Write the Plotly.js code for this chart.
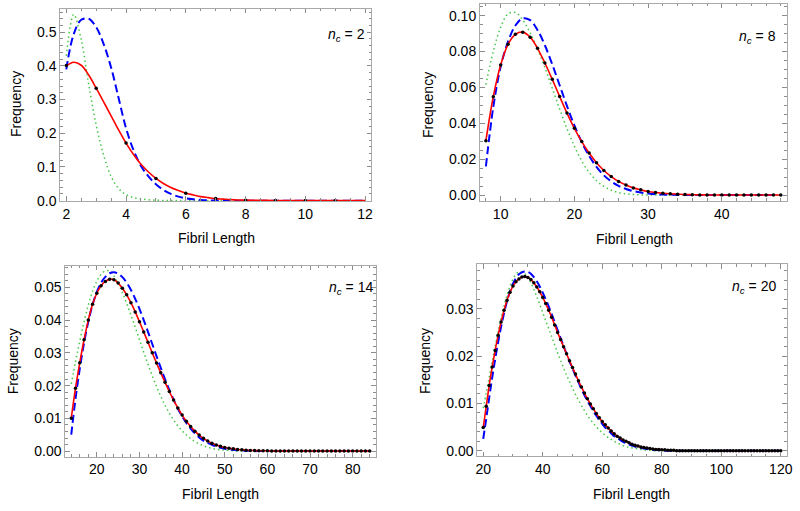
<!DOCTYPE html>
<html><head><meta charset="utf-8">
<script src="https://cdn.plot.ly/plotly-3.0.1.min.js"></script>
<style>html,body{margin:0;padding:0;background:#fff}#chart{width:800px;height:511px}</style>
</head><body><div id="chart"></div>
<script>
// ---------- data ----------
const ncValues = [2, 8, 14, 20];
// sampling grid of each panel: start and step of fibril length
const gridStart = [2, 8, 14, 20];
const gridStep = [0.25, 1, 1, 1];
const dotStart = [2, 8, 14, 20];

// n_c = 2 (curves every 0.25 from 2 to 12)
const red2 = [0.400,0.411,0.402,0.373,0.334,0.293,0.252,0.210,0.171,0.137,0.108,0.085,0.066,0.051,0.039,0.030,0.022,0.017,0.012,0.009,0.006,0.0045,0.003,0.002,0.0015,0.0012,0.0009,0.0007,0.0005,0.0004,0.0003,0.0002,0.0002,0.0001,0.0001,0.0001,0,0,0,0,0];
const blue2 = [0.390,0.495,0.537,0.540,0.515,0.465,0.395,0.305,0.215,0.150,0.103,0.072,0.049,0.032,0.020,0.012,0.007,0.004,0.002,0.001,0.0005,0.0003,0.0001,0,0,0,0,0,0,0,0,0,0,0,0,0,0,0,0,0,0];
const green2 = [0.430,0.553,0.478,0.345,0.225,0.135,0.072,0.036,0.018,0.009,0.005,0.0025,0.0012,0.0005,0.0002,0.0001,0,0,0,0,0,0,0,0,0,0,0,0,0,0,0,0,0,0,0,0,0,0,0,0,0];
const sim2 = [0.401,0.334,0.171,0.066,0.022,0.006,0.0015,0.0003,0.0001,0.0];

// n_c = 8 (every 1 from 8 to 48)
const sim8 = [0.0303,0.0548,0.0725,0.0840,0.0896,0.0908,0.0880,0.0818,0.0736,0.0645,0.0550,0.0457,0.0372,0.0298,0.0234,0.0180,0.0137,0.0103,0.0076,0.0056,0.0040,0.0029,0.0020,0.0014,0.0010,0.0007,0.0005,0.0003,0.0002,0.0001,0.0001,0,0,0,0,0,0,0,0,0,0];
const red8 = [0.0303,0.0548,0.0725,0.0840,0.0896,0.0908,0.0880,0.0818,0.0736,0.0645,0.0550,0.0457,0.0372,0.0298,0.0234,0.0180,0.0137,0.0103,0.0076,0.0056,0.0040,0.0029,0.0020,0.0014,0.0010,0.0007,0.0005,0.0003,0.0002,0.0001,0.0001,0,0,0,0,0,0,0,0,0,0];
const blue8 = [0.0160,0.0490,0.0715,0.0855,0.0945,0.0985,0.0975,0.0920,0.0835,0.0728,0.0612,0.0496,0.0388,0.0295,0.0218,0.0157,0.0110,0.0076,0.0051,0.0034,0.0022,0.0014,0.0009,0.0005,0.0003,0.0002,0.0001,0,0,0,0,0,0,0,0,0,0,0,0,0,0];
const green8 = [0.0615,0.0800,0.0935,0.1010,0.1018,0.0975,0.0905,0.0815,0.0710,0.0595,0.0480,0.0370,0.0272,0.0190,0.0126,0.0080,0.0048,0.0027,0.0014,0.0007,0.0003,0.0001,0,0,0,0,0,0,0,0,0,0,0,0,0,0,0,0,0,0,0];

// n_c = 14 (every 1 from 14 to 84)
const sim14 = [0.0100,0.0192,0.0270,0.0340,0.0400,0.0448,0.0482,0.0505,0.0518,0.0525,
  0.0523,0.0513,0.0497,0.0477,0.0453,0.0425,0.0395,0.0364,0.0332,0.0300,
  0.0269,0.0239,0.0210,0.0182,0.0156,0.0132,0.0110,0.0091,0.0075,0.0061,
  0.0049,0.0039,0.0031,0.0024,0.0019,0.0015,0.0011,0.0009,0.0007,0.0005,
  0.0004,0.0003,0.0002,0.0002,0.0001,0.0001,0.0001,0,0,0,
  0,0,0,0,0,0,0,0,0,0,
  0,0,0,0,0,0,0,0,0,0,0];
const red14 = sim14.slice();
const blue14 = [0.0050,0.0160,0.0252,0.0330,0.0395,0.0447,0.0486,0.0514,0.0532,0.0543,
  0.0546,0.0542,0.0531,0.0514,0.0492,0.0465,0.0434,0.0400,0.0364,0.0327,
  0.0290,0.0254,0.0219,0.0187,0.0157,0.0130,0.0106,0.0086,0.0069,0.0054,
  0.0042,0.0032,0.0025,0.0019,0.0014,0.0010,0.0007,0.0005,0.0004,0.0003,
  0.0002,0.0001,0.0001,0,0,0,0,0,0,0,
  0,0,0,0,0,0,0,0,0,0,
  0,0,0,0,0,0,0,0,0,0,0];
const green14 = [0.0205,0.0272,0.0336,0.0395,0.0446,0.0488,0.0519,0.0540,0.0550,0.0550,
  0.0535,0.0512,0.0484,0.0451,0.0415,0.0378,0.0340,0.0302,0.0265,0.0230,
  0.0197,0.0167,0.0140,0.0116,0.0095,0.0077,0.0062,0.0049,0.0038,0.0029,
  0.0022,0.0016,0.0012,0.0008,0.0006,0.0004,0.0003,0.0002,0.0001,0,
  0,0,0,0,0,0,0,0,0,0,
  0,0,0,0,0,0,0,0,0,0,
  0,0,0,0,0,0,0,0,0,0,0];

// n_c = 20 (every 1 from 20 to 120)
const sim20 = [0.0049,0.0094,0.0138,0.0177,0.0212,0.0244,0.0272,0.0297,0.0318,0.0335,
  0.0348,0.0357,0.0363,0.0367,0.0368,0.0366,0.0362,0.0355,0.0346,0.0336,
  0.0324,0.0311,0.0297,0.0282,0.0266,0.0250,0.0235,0.0220,0.0205,0.0190,
  0.0176,0.0162,0.0148,0.0135,0.0122,0.0110,0.0099,0.0089,0.0079,0.0070,
  0.0062,0.0055,0.0048,0.0042,0.0036,0.0031,0.0027,0.0023,0.0020,0.0017,
  0.0014,0.0012,0.0010,0.0008,0.0007,0.0006,0.0005,0.0004,0.0003,0.0003,
  0.0002,0.0002,0.0001,0.0001,0.0001,0,0,0,0,0,
  0,0,0,0,0,0,0,0,0,0,
  0,0,0,0,0,0,0,0,0,0,
  0,0,0,0,0,0,0,0,0,0,0];
const red20 = sim20.slice();
const blue20 = [0.0025,0.0068,0.0112,0.0154,0.0193,0.0229,0.0262,0.0291,0.0316,0.0337,
  0.0353,0.0365,0.0373,0.0377,0.0379,0.0378,0.0374,0.0367,0.0358,0.0347,
  0.0334,0.0320,0.0305,0.0289,0.0272,0.0255,0.0238,0.0221,0.0205,0.0189,
  0.0174,0.0159,0.0145,0.0131,0.0118,0.0106,0.0095,0.0084,0.0074,0.0065,
  0.0057,0.0049,0.0043,0.0037,0.0031,0.0027,0.0023,0.0019,0.0016,0.0013,
  0.0011,0.0009,0.0007,0.0006,0.0005,0.0004,0.0003,0.0002,0.0002,0.0001,
  0.0001,0,0,0,0,0,0,0,0,0,
  0,0,0,0,0,0,0,0,0,0,
  0,0,0,0,0,0,0,0,0,0,
  0,0,0,0,0,0,0,0,0,0,0];
const green20 = [0.0090,0.0122,0.0155,0.0188,0.0220,0.0251,0.0280,0.0306,0.0329,0.0348,
  0.0363,0.0373,0.0378,0.0378,0.0374,0.0366,0.0355,0.0341,0.0326,0.0309,
  0.0292,0.0275,0.0258,0.0241,0.0224,0.0207,0.0191,0.0175,0.0160,0.0146,
  0.0132,0.0119,0.0107,0.0096,0.0085,0.0075,0.0066,0.0058,0.0051,0.0044,
  0.0038,0.0033,0.0028,0.0024,0.0020,0.0017,0.0014,0.0011,0.0009,0.0007,
  0.0006,0.0005,0.0004,0.0003,0.0002,0.0001,0.0001,0,0,0,
  0,0,0,0,0,0,0,0,0,0,
  0,0,0,0,0,0,0,0,0,0,
  0,0,0,0,0,0,0,0,0,0,
  0,0,0,0,0,0,0,0,0,0,0];

const xTitle = 'Fibril Length';
const yTitle = 'Frequency';

// ---------- presentation ----------
const FONT = '"Liberation Sans", Arial, Helvetica, sans-serif';
const FRAME = '#a9a9a9';
const TICK = '#8c8c8c';

const series = [
  {red: red2, blue: blue2, green: green2, sim: sim2},
  {red: red8, blue: blue8, green: green8, sim: sim8},
  {red: red14, blue: blue14, green: green14, sim: sim14},
  {red: red20, blue: blue20, green: green20, sim: sim20}
];

const looks = [
  {xd:[0.0754,0.4638], yd:[0.6067,0.9824], xr:[1.8,12.2], yr:[-0.001,0.569], xt:2, xm:0.5, yt:0.1, ym:0.02, yf:'.1f', x0t:2,
   fy:[0.020,0.7965], fx:[0.270,0.5337], nc:[0.4588,0.9315]},
  {xd:[0.600,0.9834], yd:[0.6067,0.9922], xr:[7.2,48.8], yr:[-0.0033,0.1065], xt:10, xm:2, yt:0.02, ym:0.005, yf:'.2f', x0t:0,
   fy:[0.535,0.7945], fx:[0.7925,0.5323], nc:[0.9728,0.9276]},
  {xd:[0.0816,0.4696], yd:[0.1063,0.4800], xr:[12.6,85.4], yr:[-0.0017,0.0566], xt:10, xm:2, yt:0.01, ym:0.002, yf:'.2f', x0t:0,
   fy:[0.0166,0.2935], fx:[0.2759,0.0327], nc:[0.4688,0.4364]},
  {xd:[0.5966,0.9834], yd:[0.1076,0.4828], xr:[18,122], yr:[-0.0011,0.0394], xt:20, xm:5, yt:0.01, ym:0.002, yf:'.2f', x0t:0,
   fy:[0.5313,0.2935], fx:[0.7896,0.0327], nc:[0.9728,0.4384]}
];

const data = [];
const layout = {
  width: 800, height: 511,
  margin: {l:0, r:0, t:0, b:0, pad:0},
  paper_bgcolor: '#fff', plot_bgcolor: '#fff',
  showlegend: false,
  font: {family: FONT, size: 14, color: '#000'},
  annotations: []
};

series.forEach((s, i) => {
  const L = looks[i];
  const k = i === 0 ? '' : String(i + 1);
  const xa = 'x' + k, ya = 'y' + k;
  const common = {xaxis: xa, yaxis: ya, x0: gridStart[i], dx: gridStep[i], hoverinfo: 'skip'};
  data.push(Object.assign({type:'scatter', mode:'lines', y: s.green,
    line:{color:'rgb(70,200,70)', width:1.5, dash:'1.5px,3px', shape:'spline', smoothing:1}}, common));
  data.push(Object.assign({type:'scatter', mode:'lines', y: s.blue,
    line:{color:'#0000ff', width:2, dash:'8px,4px', shape:'spline', smoothing:1}}, common));
  data.push(Object.assign({type:'scatter', mode:'lines', y: s.red,
    line:{color:'#ff0000', width:1.6, shape:'spline', smoothing:1}}, common));
  data.push({type:'scatter', mode:'markers', xaxis: xa, yaxis: ya, x0: dotStart[i], dx: 1, y: s.sim,
    hoverinfo:'skip', marker:{color:'#000', size:3.5}});

  const axCommon = {
    showline: true, linecolor: FRAME, linewidth: 1, mirror: 'ticks',
    ticks: 'inside', ticklen: 4.5, tickwidth: 1, tickcolor: TICK,
    showgrid: false, zeroline: false, fixedrange: true,
    tickfont: {family: FONT, size: 14, color: '#000'}
  };
  layout['xaxis' + k] = Object.assign({}, axCommon, {
    domain: L.xd, range: L.xr, anchor: ya, tick0: L.x0t, dtick: L.xt,
    minor: {ticks:'inside', ticklen: 2.5, tickcolor: TICK, tickwidth: 1, dtick: L.xm, tick0: L.x0t, showgrid:false}
  });
  layout['yaxis' + k] = Object.assign({}, axCommon, {
    domain: L.yd, range: L.yr, anchor: xa, tick0: 0, dtick: L.yt, tickformat: L.yf,
    minor: {ticks:'inside', ticklen: 2.5, tickcolor: TICK, tickwidth: 1, dtick: L.ym, tick0: 0, showgrid:false}
  });

  layout.annotations.push({xref:'paper', yref:'paper', x: L.fy[0], y: L.fy[1], text: yTitle, textangle: -90,
    showarrow:false, xanchor:'center', yanchor:'middle', font:{family:FONT, size:14, color:'#000'}});
  layout.annotations.push({xref:'paper', yref:'paper', x: L.fx[0], y: L.fx[1], text: xTitle,
    showarrow:false, xanchor:'center', yanchor:'middle', font:{family:FONT, size:14, color:'#000'}});
  layout.annotations.push({xref:'paper', yref:'paper', x: L.nc[0], y: L.nc[1],
    text: '<i>n</i><sub><i>c</i></sub> = ' + ncValues[i],
    showarrow:false, xanchor:'right', yanchor:'middle', font:{family:FONT, size:14, color:'#000'}});
});

Plotly.newPlot('chart', data, layout, {staticPlot: true, displayModeBar: false});
</script>
</body></html>
